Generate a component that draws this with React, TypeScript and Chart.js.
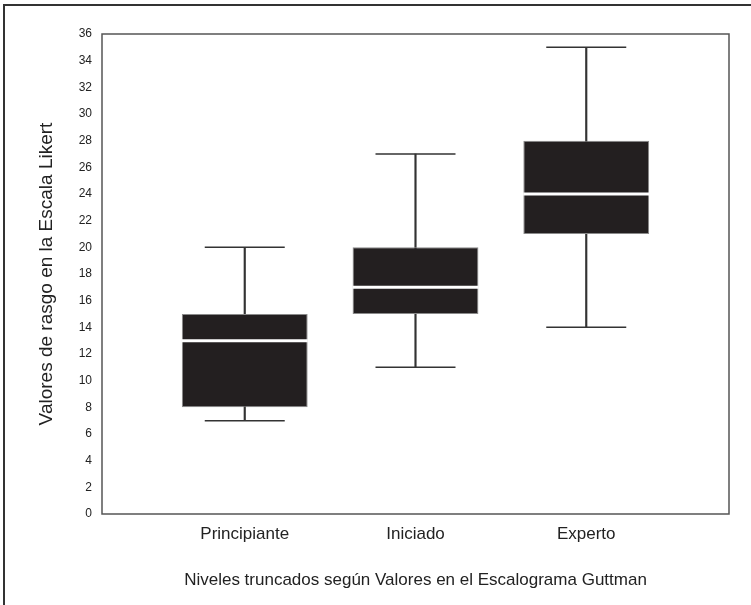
import React, { useEffect, useRef } from "react";
import { Chart, registerables } from "chart.js";

Chart.register(...registerables);

const categories = ["Principiante", "Iniciado", "Experto"];
const whiskerLow = [7, 11, 14];
const q1 = [8, 15, 21];
const median = [13, 17, 24];
const q3 = [15, 20, 28];
const whiskerHigh = [20, 27, 35];
const yTitle = "Valores de rasgo en la Escala Likert";
const xTitle = "Niveles truncados según Valores en el Escalograma Guttman";

const FONT = "'Liberation Sans', Arial, sans-serif";

const framePlugin = {
  id: "framePlugin",
  beforeDraw(chart: any) {
    const ctx = chart.ctx;
    ctx.save();
    ctx.fillStyle = "#ffffff";
    ctx.fillRect(0, 0, chart.width, chart.height);
    ctx.strokeStyle = "#333333";
    ctx.lineWidth = 2;
    ctx.beginPath();
    ctx.moveTo(4, chart.height + 2);
    ctx.lineTo(4, 5);
    ctx.lineTo(chart.width + 2, 5);
    ctx.stroke();
    ctx.restore();
  },
  afterDraw(chart: any) {
    const { ctx, chartArea } = chart;
    ctx.save();
    ctx.strokeStyle = "#555555";
    ctx.lineWidth = 1.5;
    ctx.strokeRect(chartArea.left, chartArea.top, chartArea.right - chartArea.left, chartArea.bottom - chartArea.top);
    ctx.restore();
  },
};

export default function App() {
  const ref = useRef<HTMLCanvasElement>(null);

  useEffect(() => {
    if (!ref.current) return;
    const idx = categories.map((_, i) => i + 1);
    const chart = new Chart(ref.current, {
      type: "bar",
      data: {
        datasets: [
          {
            type: "bar",
            label: "whisker",
            data: idx.map((x, i) => ({ x, y: [whiskerLow[i], whiskerHigh[i]] })) as any,
            backgroundColor: "#333333",
            borderWidth: 0,
            barThickness: 1.5,
            grouped: false,
            order: 3,
          } as any,
          {
            type: "bar",
            label: "box",
            data: idx.map((x, i) => ({ x, y: [q1[i], q3[i]] })) as any,
            backgroundColor: "#231f20",
            borderColor: "#8a8a8a",
            borderWidth: 1,
            borderSkipped: false,
            categoryPercentage: 1,
            barPercentage: 0.737,
            grouped: false,
            order: 2,
          } as any,
          {
            type: "scatter",
            label: "median",
            data: idx.map((x, i) => ({ x, y: median[i] })),
            pointStyle: "line",
            pointRadius: 63,
            borderColor: "#ffffff",
            borderWidth: 3,
            order: 1,
          } as any,
          {
            type: "scatter",
            label: "caps",
            data: [
              ...idx.map((x, i) => ({ x, y: whiskerLow[i] })),
              ...idx.map((x, i) => ({ x, y: whiskerHigh[i] })),
            ],
            pointStyle: "line",
            pointRadius: 40,
            borderColor: "#333333",
            borderWidth: 1.5,
            order: 0,
          } as any,
        ],
      },
      options: {
        animation: false,
        responsive: false,
        layout: { autoPadding: false, padding: { left: 33, right: 22, top: 34, bottom: 10 } },
        plugins: {
          legend: { display: false },
          tooltip: { enabled: false },
        },
        scales: {
          x: {
            type: "linear",
            min: 0.164,
            max: 3.836,
            offset: false,
            grid: { display: false, drawTicks: false },
            border: { display: false },
            afterBuildTicks(scale: any) {
              scale.ticks = idx.map((v) => ({ value: v }));
            },
            afterFit(scale: any) {
              scale.height = 605 - 10 - 514;
            },
            ticks: {
              padding: 10,
              color: "#222222",
              font: { family: FONT, size: 17 },
              callback: (v: any) => categories[Math.round(Number(v)) - 1] ?? "",
            },
            title: {
              display: true,
              text: xTitle,
              color: "#222222",
              font: { family: FONT, size: 17 },
              padding: { top: 4, bottom: 4 },
            },
          },
          y: {
            type: "linear",
            min: 0,
            max: 36,
            grid: { display: false, drawTicks: false },
            border: { display: false },
            afterFit(scale: any) {
              scale.width = 102 - 33;
            },
            ticks: {
              stepSize: 2,
              padding: 10,
              color: "#222222",
              font: { family: FONT, size: 12 },
            },
            title: {
              display: true,
              text: yTitle,
              color: "#222222",
              font: { family: FONT, size: 19 },
              padding: 2,
            },
          },
        },
      } as any,
      plugins: [framePlugin],
    });
    return () => chart.destroy();
  }, []);

  return (
    <div style={{ position: "absolute", left: 0, top: 0, width: 751, height: 605, background: "#fff" }}>
      <canvas ref={ref} width={751} height={605} style={{ display: "block" }} />
    </div>
  );
}
